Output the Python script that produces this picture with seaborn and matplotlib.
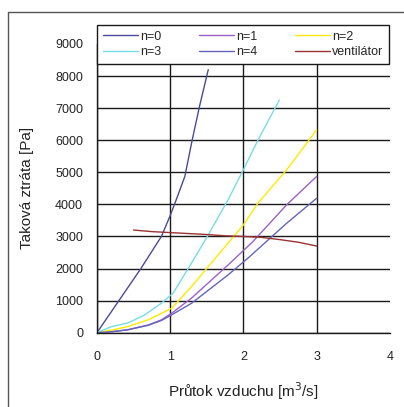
import numpy as np
import pandas as pd
import matplotlib
matplotlib.use("Agg")
import matplotlib.pyplot as plt
import seaborn as sns
from matplotlib.lines import Line2D

# ---- data ----
x_n0 = [0, 0.3, 0.6, 0.88, 1.0, 1.1, 1.2, 1.3, 1.4, 1.52]
y_n0 = [0, 1000, 2000, 3000, 3650, 4250, 4870, 6000, 7050, 8200]

x_n1 = [0, 0.2, 0.42, 0.7, 0.88, 1.02, 1.29, 1.79, 2.13, 2.59, 3.0]
y_n1 = [0, 30, 90, 240, 400, 605, 1075, 2110, 2840, 3985, 4870]

x_n2 = [0, 0.2, 0.42, 0.7, 0.88, 1.02, 1.29, 1.52, 1.79, 2.0, 2.2, 2.59, 3.0]
y_n2 = [0, 80, 190, 400, 605, 760, 1435, 2060, 2790, 3360, 4040, 5075, 6320]

x_n3 = [0, 0.2, 0.42, 0.65, 0.88, 1.04, 1.29, 1.52, 1.79, 2.0, 2.2, 2.49]
y_n3 = [0, 190, 300, 550, 920, 1230, 2165, 3050, 4140, 5080, 6010, 7250]

x_n4 = [0, 0.2, 0.42, 0.7, 0.88, 1.02, 1.29, 1.79, 2.06, 2.59, 3.0]
y_n4 = [0, 30, 90, 230, 380, 555, 915, 1800, 2320, 3410, 4190]

x_vent = [0.5, 0.75, 1.0, 1.25, 1.5, 1.75, 2.0, 2.25, 2.5, 2.75, 3.0]
y_vent = [3200, 3150, 3120, 3090, 3060, 3020, 3000, 2970, 2900, 2820, 2700]

series_names = ["n=0", "n=1", "n=2", "n=3", "n=4", "ventilátor"]
xs = [x_n0, x_n1, x_n2, x_n3, x_n4, x_vent]
ys = [y_n0, y_n1, y_n2, y_n3, y_n4, y_vent]

x_ticks = [0, 1, 2, 3, 4]
y_ticks = [0, 1000, 2000, 3000, 4000, 5000, 6000, 7000, 8000, 9000]

palette = {
    "n=0": "#4a4a9c",
    "n=1": "#9a62c8",
    "n=2": "#ffea00",
    "n=3": "#78dce6",
    "n=4": "#6464b8",
    "ventilátor": "#993333",
}

rows = []
for name, xv, yv in zip(series_names, xs, ys):
    for a, b in zip(xv, yv):
        rows.append({"x": a, "y": b, "serie": name})
df = pd.DataFrame(rows)

sns.set_style("white")
plt.rcParams["font.family"] = ["Liberation Sans", "DejaVu Sans"]

fig = plt.figure(figsize=(4.04, 4.07), dpi=100)
ax = fig.add_axes([0.240, 0.1826, 0.725, 0.7094])

sns.lineplot(data=df, x="x", y="y", hue="serie", palette=palette,
             estimator=None, sort=False, linewidth=1.0, ax=ax, legend=False)

ax.set_xlim(0, 4)
ax.set_ylim(0, 9000)
ax.set_xticks(x_ticks)
ax.set_yticks(y_ticks)
ax.set_xticklabels([str(t) for t in x_ticks], fontsize=9)
ax.set_yticklabels([str(t) for t in y_ticks], fontsize=9)
ax.grid(True, color="#1a1a1a", linewidth=1.0)
ax.set_axisbelow(True)
gl = ax.xaxis.get_gridlines()
gl[-1].set_visible(False)
for s in ["top", "right"]:
    ax.spines[s].set_visible(False)
for s in ["left", "bottom"]:
    ax.spines[s].set_color("#1a1a1a")
    ax.spines[s].set_linewidth(1.0)
ax.tick_params(axis="both", direction="out", length=4, width=1.0,
               color="#1a1a1a", pad=6, labelcolor="#222222")
ax.tick_params(axis="x", pad=9)

ax.set_xlabel("Průtok vzduchu [m$^3$/s]", fontsize=11, color="#222222", labelpad=13)
ax.set_ylabel("Taková ztráta [Pa]", fontsize=11, color="#222222", labelpad=15)

# legend: rows n=0,n=1,n=2 / n=3,n=4,ventilátor
order = ["n=0", "n=3", "n=1", "n=4", "n=2", "ventilátor"]
handles = [Line2D([0], [0], color=palette[k], lw=1.0) for k in order]
leg = ax.legend(handles, order, ncol=3, loc="upper left",
                bbox_to_anchor=(0.0, 1.066, 0.997, 0.0), mode="expand",
                fontsize=9, frameon=True, fancybox=False, borderpad=0.45,
                handlelength=2.8, handletextpad=0.2, labelspacing=0.3,
                borderaxespad=0.0, columnspacing=1.0)
leg.get_frame().set_edgecolor("#1a1a1a")
leg.get_frame().set_linewidth(1.0)
leg.get_frame().set_alpha(1.0)
leg.set_zorder(10)

# outer frame (top and left visible)
fig.add_artist(Line2D([8 / 404, 1.0], [1 - 12 / 407, 1 - 12 / 407],
                      transform=fig.transFigure, color="#555555", lw=1.0))
fig.add_artist(Line2D([8 / 404, 8 / 404], [0.0, 1 - 12 / 407],
                      transform=fig.transFigure, color="#555555", lw=1.0))

fig.savefig("out.png", dpi=100)
